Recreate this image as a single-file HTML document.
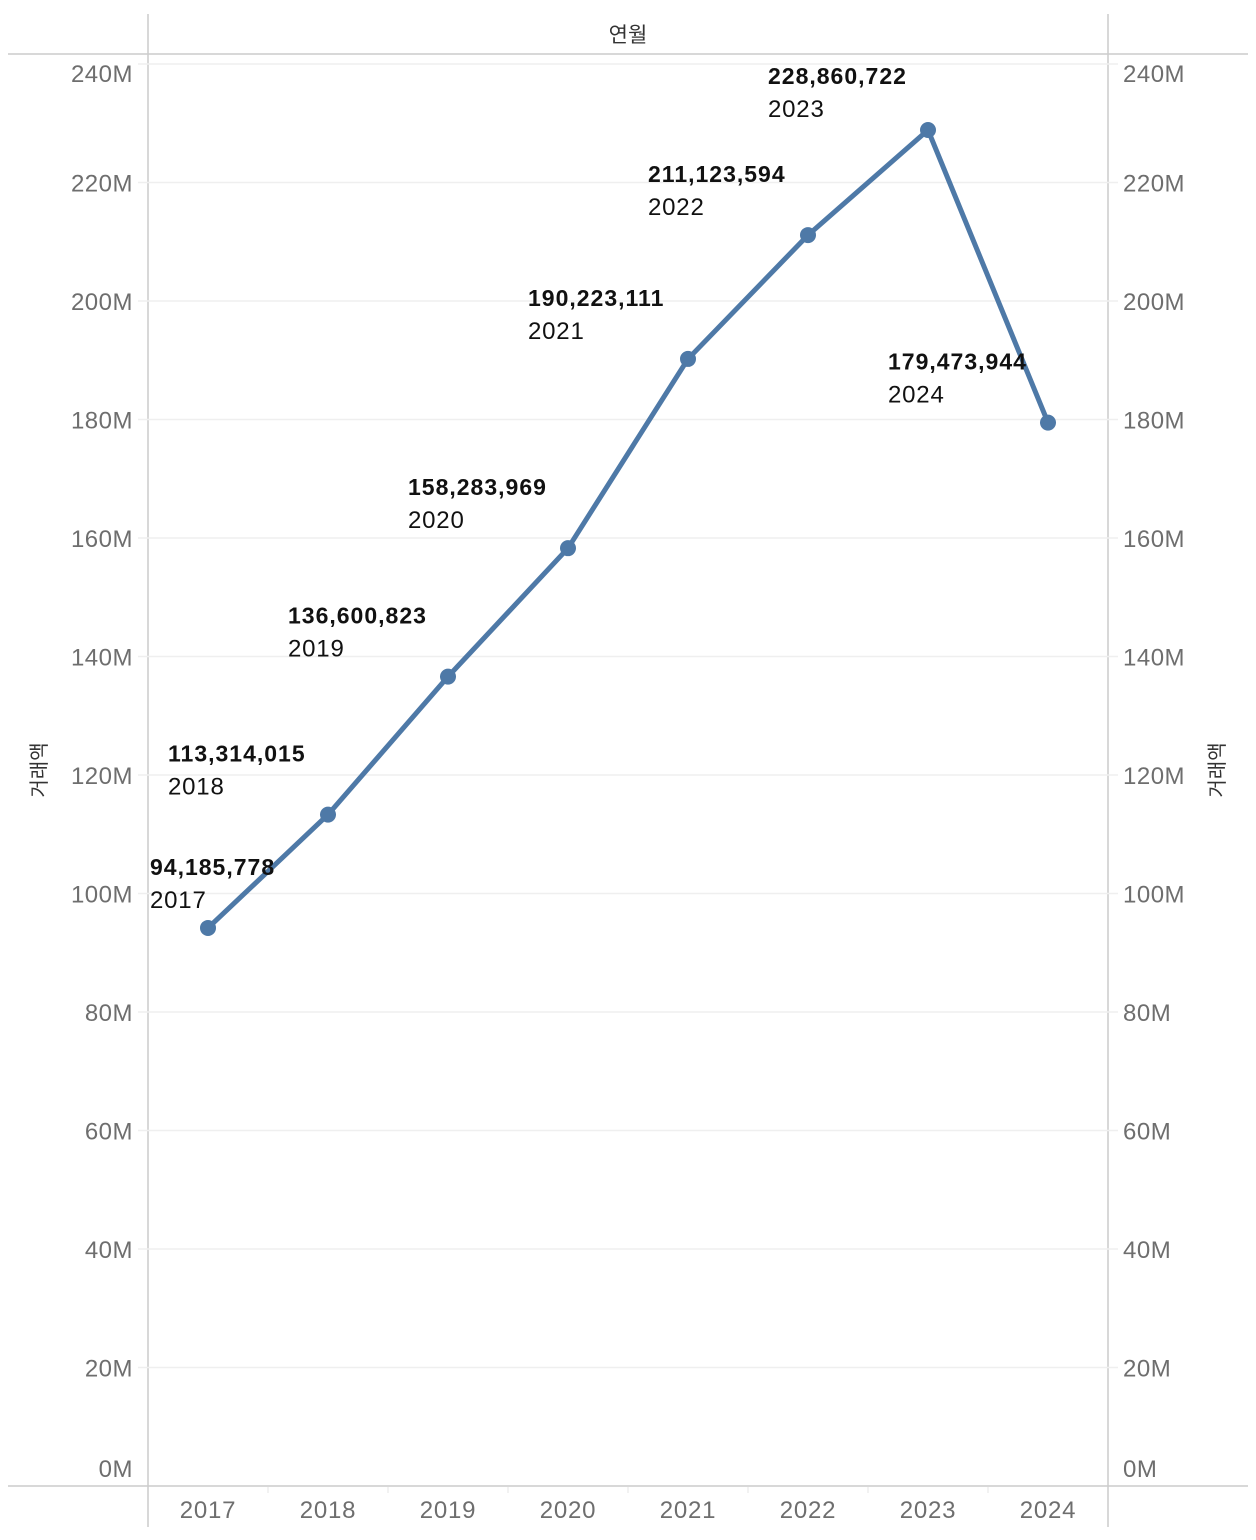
<!DOCTYPE html>
<html><head><meta charset="utf-8"><style>
body{margin:0;background:#fff;}
svg{display:block;font-family:"Liberation Sans","Noto Sans CJK KR",sans-serif;}
</style></head><body>
<svg id="c" width="1256" height="1540">
<line x1="8" y1="54" x2="1248" y2="54" stroke="#ccc" stroke-width="1.5"/>
<line x1="8" y1="1486" x2="1248" y2="1486" stroke="#ccc" stroke-width="1.5"/>
<line x1="148" y1="14" x2="148" y2="1527" stroke="#ccc" stroke-width="1.5"/>
<line x1="1108" y1="14" x2="1108" y2="1527" stroke="#ccc" stroke-width="1.5"/>
<text x="628" y="42" text-anchor="middle" font-size="21" fill="#333">연월</text>
<text transform="translate(46,770) rotate(-90)" text-anchor="middle" font-size="20" fill="#333">거래액</text>
<text transform="translate(1224,770) rotate(-90)" text-anchor="middle" font-size="20" fill="#333">거래액</text>
<g id="grid"></g><g id="ticks"></g><g id="marks"></g><g id="labels"></g>
</svg>
<script>
const years=["2017","2018","2019","2020","2021","2022","2023","2024"];
const values=[94185778,113314015,136600823,158283969,190223111,211123594,228860722,179473944];
const valueLabels=["94,185,778","113,314,015","136,600,823","158,283,969","190,223,111","211,123,594","228,860,722","179,473,944"];
const yTicks=[0,20,40,60,80,100,120,140,160,180,200,220,240];
const NS="http://www.w3.org/2000/svg";
const x=i=>208+i*120;
const y=v=>1486-(v/1e6)*(1422/240);
function mk(tag,attrs,parent,text){const e=document.createElementNS(NS,tag);for(const k in attrs)e.setAttribute(k,attrs[k]);if(text!==undefined)e.textContent=text;parent.appendChild(e);return e;}
const grid=document.getElementById('grid'),ticks=document.getElementById('ticks'),marks=document.getElementById('marks'),labels=document.getElementById('labels');
yTicks.forEach(t=>{
  const yy=y(t*1e6);
  if(t>0){const g=mk('line',{x1:138,x2:1118,y1:yy,y2:yy,stroke:'#efefef','stroke-width':1.5},grid);
  
  }
  const ty=Math.min(1477,Math.max(82,yy+9));
  const a=mk('text',{x:133,y:ty,'text-anchor':'end','font-size':24,'letter-spacing':0.5,fill:'#6e6e6e'},ticks,t+'M');
  
  
  const b=mk('text',{x:1123,y:ty,'font-size':24,'letter-spacing':0.5,fill:'#6e6e6e'},ticks,t+'M');
  
  
});
years.forEach((yr,i)=>{
  const t=mk('text',{x:x(i),y:1518,'text-anchor':'middle','font-size':24,'letter-spacing':0.8,fill:'#6e6e6e'},ticks,yr);
  
  
  if(i>0){const s=mk('line',{x1:x(i)-60,x2:x(i)-60,y1:1487,y2:1493,stroke:'#eee','stroke-width':1.5},ticks);
  
  }
});
const pts=values.map((v,i)=>x(i)+','+y(v)).join(' ');
const pl=mk('polyline',{points:pts,fill:'none',stroke:'#4e79a7','stroke-width':5,'stroke-linejoin':'round'},marks);


values.forEach((v,i)=>{
  const c=mk('circle',{cx:x(i),cy:y(v),r:8,fill:'#4e79a7'},marks);
  
  
  const lx=Math.max(150,x(i)-160);
  const vb=Math.max(84,y(v)-53);
  const a=mk('text',{x:lx,y:vb,'font-size':23,'font-weight':'bold','letter-spacing':1,fill:'#111'},labels,valueLabels[i]);
  
  
  const b=mk('text',{x:lx,y:vb+33,'font-size':24,'letter-spacing':0.8,fill:'#111'},labels,years[i]);
  
  
});
</script>
</body></html>
